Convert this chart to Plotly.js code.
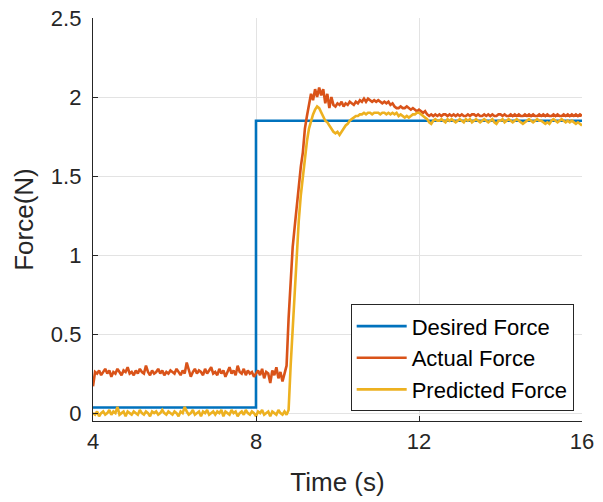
<!DOCTYPE html>
<html>
<head>
<meta charset="utf-8">
<script src="https://cdn.plot.ly/plotly-3.0.1.min.js"></script>
<style>html,body{margin:0;padding:0;background:#fff;}#chart{width:603px;height:502px;}</style>
</head>
<body>
<div id="chart"></div>
<script>
// Desired force (step)
const desiredTime = [4, 8, 16];
const desiredForce = [0.035, 1.85, 1.85];

// Sampled series: start time and sample step (s)
const sampleStart = 4;
const sampleStep = 0.05;

// Actual force, 4.00 s to 16.00 s
const actualForce = [
  0.17,0.26,0.25,0.27,0.24,0.26,0.28,0.25,0.27,0.23,0.26,0.25,0.28,0.26,0.24,0.27,0.26,0.29,0.25,0.26,
  0.24,0.27,0.25,0.28,0.26,0.25,0.30,0.26,0.24,0.27,0.25,0.26,0.28,0.25,0.27,0.24,0.26,0.25,0.27,0.26,
  0.25,0.28,0.26,0.24,0.27,0.25,0.32,0.27,0.23,0.26,0.28,0.25,0.27,0.26,0.24,0.28,0.25,0.27,0.29,0.25,
  0.26,0.24,0.28,0.25,0.27,0.23,0.26,0.29,0.25,0.27,0.24,0.30,0.26,0.25,0.28,0.24,0.27,0.25,0.26,0.23,
  0.25,0.27,0.24,0.28,0.22,0.26,0.25,0.19,0.27,0.24,0.29,0.22,0.26,0.20,0.25,0.30,0.60,0.85,1.05,1.18,
  1.32,1.45,1.56,1.65,1.80,1.88,1.95,2.02,1.98,2.05,2.00,2.06,2.01,2.05,1.96,2.02,1.93,2.00,1.95,1.94,
  1.96,1.95,1.97,1.94,1.96,1.95,1.97,1.96,1.95,1.97,1.96,1.98,1.97,1.99,1.97,1.99,1.98,1.97,1.98,1.97,
  1.98,1.97,1.96,1.97,1.96,1.97,1.95,1.96,1.94,1.93,1.93,1.94,1.93,1.93,1.94,1.93,1.92,1.93,1.92,1.91,
  1.92,1.91,1.90,1.91,1.89,1.88,1.89,1.88,1.89,1.88,1.89,1.88,1.89,1.89,1.88,1.89,1.88,1.89,1.88,1.89,
  1.88,1.89,1.88,1.88,1.89,1.88,1.89,1.89,1.88,1.89,1.88,1.88,1.89,1.88,1.89,1.88,1.89,1.88,1.88,1.89,
  1.89,1.88,1.89,1.88,1.88,1.89,1.88,1.89,1.88,1.89,1.88,1.88,1.89,1.88,1.89,1.88,1.89,1.88,1.88,1.89,
  1.88,1.89,1.88,1.89,1.88,1.88,1.89,1.88,1.89,1.88,1.88,1.89,1.88,1.89,1.88,1.89,1.88,1.89,1.88,1.89,
  1.88
];

// Predicted force, 4.00 s to 16.00 s
const predictedForce = [
  0.00,-0.01,0.01,-0.02,0.00,0.01,-0.01,0.00,0.02,-0.01,0.01,0.00,0.04,-0.01,0.00,0.01,-0.02,0.01,0.00,-0.01,
  0.01,0.00,-0.01,0.02,0.00,-0.01,0.01,0.00,-0.02,0.01,0.00,0.01,-0.01,0.00,0.02,0.00,-0.01,0.01,0.00,-0.01,
  0.01,0.00,-0.02,0.01,0.00,0.04,0.01,-0.01,0.00,0.02,-0.01,0.00,0.01,-0.02,0.01,0.00,0.02,-0.01,0.00,0.01,
  -0.01,0.01,0.00,0.02,-0.02,0.01,0.00,-0.01,0.02,0.00,0.01,-0.02,0.00,0.01,-0.01,0.02,0.00,-0.01,0.01,0.00,
  -0.02,0.01,0.00,0.02,-0.01,0.00,0.01,-0.02,0.01,0.00,-0.01,0.02,0.00,-0.01,0.01,-0.01,0.02,0.30,0.55,0.80,
  1.05,1.22,1.38,1.50,1.62,1.72,1.80,1.85,1.89,1.92,1.94,1.93,1.90,1.87,1.85,1.84,1.82,1.80,1.78,1.77,
  1.78,1.76,1.78,1.80,1.82,1.83,1.85,1.86,1.87,1.88,1.88,1.89,1.89,1.90,1.89,1.90,1.90,1.89,1.90,1.90,
  1.90,1.89,1.90,1.90,1.89,1.90,1.89,1.90,1.89,1.90,1.88,1.89,1.88,1.87,1.88,1.87,1.88,1.89,1.89,1.90,
  1.90,1.89,1.88,1.87,1.86,1.84,1.83,1.85,1.86,1.85,1.85,1.86,1.85,1.84,1.86,1.85,1.86,1.85,1.84,1.85,
  1.86,1.85,1.84,1.86,1.85,1.86,1.84,1.85,1.86,1.85,1.84,1.85,1.86,1.85,1.84,1.85,1.86,1.84,1.83,1.85,
  1.85,1.86,1.84,1.85,1.86,1.85,1.84,1.85,1.86,1.85,1.84,1.83,1.84,1.85,1.86,1.85,1.84,1.85,1.86,1.85,
  1.85,1.84,1.83,1.84,1.83,1.85,1.86,1.85,1.84,1.85,1.86,1.85,1.84,1.85,1.84,1.85,1.84,1.83,1.84,1.83,
  1.82
];

const seriesNames = ['Desired Force', 'Actual Force', 'Predicted Force'];
const xTicks = [4, 8, 12, 16];
const yTicks = [0, 0.5, 1, 1.5, 2, 2.5];
const yTickText = ['0', '0.5', '1', '1.5', '2', '2.5'];

const FONT = 'Liberation Sans, Arial, Helvetica, sans-serif';
const INK = '#262626';

const traces = [
  {x: desiredTime, y: desiredForce, name: seriesNames[0], mode: 'lines', line: {color: '#0072BD', width: 2.6, shape: 'hv'}, legendgroup: 'a'},
  {x0: sampleStart, dx: sampleStep, y: actualForce, name: seriesNames[1], mode: 'lines', line: {color: '#D95319', width: 2.6}, legendgroup: 'b'},
  {x0: sampleStart, dx: sampleStep, y: predictedForce, name: seriesNames[2], mode: 'lines', line: {color: '#EDB120', width: 2.6}, legendgroup: 'c'}
];

const layout = {
  width: 603, height: 502,
  margin: {l: 93, r: 21, t: 18, b: 81},
  paper_bgcolor: '#fff', plot_bgcolor: '#fff',
  font: {family: FONT, color: INK, size: 22},
  showlegend: true,
  legend: {
    x: 0.983, xanchor: 'right', y: 0.024, yanchor: 'bottom',
    bgcolor: '#fff', bordercolor: INK, borderwidth: 1,
    font: {family: FONT, size: 22, color: '#000'},
    itemwidth: 50, tracegroupgap: 0, traceorder: 'grouped'
  },
  xaxis: {
    range: [4, 16], tickvals: xTicks, ticktext: xTicks.map(String),
    showline: true, linecolor: INK, linewidth: 1.2, mirror: false,
    ticks: 'inside', ticklen: 5, tickcolor: INK, tickwidth: 1,
    showgrid: true, gridcolor: '#e3e3e3', gridwidth: 1, zeroline: false,
    tickfont: {family: FONT, size: 22, color: INK},
    title: {text: 'Time (s)', font: {family: FONT, size: 26, color: INK}, standoff: 20}
  },
  yaxis: {
    range: [-0.05, 2.5], tickvals: yTicks, ticktext: yTickText,
    showline: true, linecolor: INK, linewidth: 1.2, mirror: false,
    ticks: 'inside', ticklen: 5, tickcolor: INK, tickwidth: 1,
    ticklabelstandoff: 6,
    showgrid: true, gridcolor: '#e3e3e3', gridwidth: 1, zeroline: false,
    tickfont: {family: FONT, size: 22, color: INK},
    title: {text: 'Force(N)', font: {family: FONT, size: 26, color: INK}, standoff: 9}
  }
};

Plotly.newPlot('chart', traces, layout, {staticPlot: true, displayModeBar: false});
</script>
</body>
</html>
